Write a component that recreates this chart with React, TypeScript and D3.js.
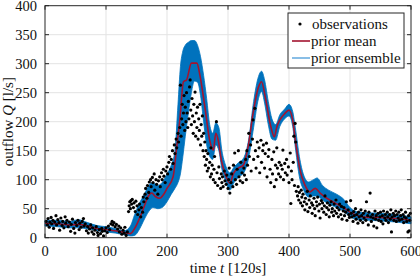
import * as d3 from "d3";
import React from "react";

const W = 420;
const H = 278;
const margin = { left: 45, right: 9, top: 5.7, bottom: 40.3 };

const xTicks = [0, 100, 200, 300, 400, 500, 600];
const yTicks = [0, 50, 100, 150, 200, 250, 300, 350, 400];

// prior mean [time, outflow]
const priorMean: [number, number][] = [
  [0, 25], [20, 24], [40, 22], [55, 23], [70, 20], [85, 16], [100, 14], [115, 12], [130, 9],
  [140, 7], [147, 16], [156, 36], [163, 55], [169, 71], [175, 77], [181, 71], [188, 68],
  [194, 74], [200, 85], [210, 105], [216, 157], [221, 203], [227, 269], [232, 272],
  [240, 301], [249, 301], [254, 280], [262, 226], [270, 168], [276, 151], [280, 180],
  [284, 168], [289, 134], [295, 111], [303, 94], [309, 111], [317, 120], [325, 125],
  [333, 157], [341, 214], [350, 260], [355, 269], [361, 243], [369, 197], [376, 174],
  [380, 191], [385, 203], [393, 214], [400, 220], [406, 203], [411, 163], [418, 117],
  [426, 91], [434, 79], [443, 85], [451, 77], [462, 68], [475, 60], [489, 52], [500, 44],
  [516, 37], [530, 35], [549, 35], [575, 33], [600, 30],
];

// prior ensemble envelope
const ensTime = [0, 20, 40, 55, 70, 85, 100, 115, 130, 140, 147, 155, 163, 170, 177, 185, 192, 200, 207, 213, 218, 222, 226, 230, 235, 240, 245, 250, 255, 260, 265, 270, 275, 280, 285, 290, 296, 303, 310, 318, 326, 334, 342, 350, 355, 360, 366, 372, 378, 385, 393, 400, 406, 411, 417, 424, 432, 440, 446, 455, 465, 478, 490, 500, 515, 530, 550, 575, 600];
const ensUpper = [30, 30, 28, 31, 26, 21, 19, 16, 12, 20, 40, 60, 75, 90, 95, 90, 95, 110, 125, 150, 230, 295, 322, 332, 337, 340, 340, 332, 312, 280, 240, 195, 180, 198, 190, 150, 125, 112, 122, 130, 138, 170, 235, 278, 287, 272, 235, 205, 195, 212, 222, 230, 218, 185, 140, 108, 96, 100, 103, 90, 82, 75, 66, 52, 44, 43, 42, 40, 36];
const ensLower = [20, 19, 17, 17, 15, 12, 10, 8, 5, 3, 4, 15, 32, 45, 52, 50, 52, 62, 75, 85, 95, 110, 140, 175, 215, 250, 270, 268, 245, 200, 160, 140, 135, 160, 150, 118, 98, 82, 95, 105, 112, 138, 190, 240, 252, 232, 195, 170, 168, 192, 205, 210, 192, 150, 105, 82, 70, 72, 72, 65, 58, 52, 45, 36, 31, 30, 29, 27, 24];

// observations [time, outflow]
const observations: [number, number][] = [
  [2, 28], [4, 22], [5, 33], [7, 18], [8, 27], [10, 35], [11, 24], [13, 30], [14, 16], [16, 27], [18, 38], [19, 22],
  [21, 31], [23, 26], [24, 13], [26, 34], [28, 21], [29, 28], [31, 17], [33, 36], [34, 25], [36, 30], [38, 19], [40, 27],
  [42, 11], [43, 23], [45, 32], [47, 16], [49, 8], [50, 26], [52, 21], [54, 30], [56, 14], [57, 25], [59, 18], [61, 28],
  [63, 33], [64, 20], [66, 24], [68, 12], [70, 19], [71, 8], [73, 15], [75, 22], [77, 10], [78, 17], [80, 6], [82, 13],
  [84, 19], [86, 9], [87, 4], [89, 14], [91, 7], [93, 16], [94, 11], [96, 3], [98, 12], [100, 17], [102, 9], [104, 20],
  [106, 14], [108, 24], [110, 28], [111, 22], [113, 26], [115, 19], [117, 23], [119, 15], [121, 20], [122, 10], [124, 17],
  [126, 6], [128, 13], [130, 8], [131, 18], [133, 4], [135, 10],
  [137, 45], [138, 55], [139, 62], [140, 50], [141, 64], [142, 58], [143, 66], [145, 52], [146, 60], [148, 45], [149, 63],
  [151, 55], [152, 40], [154, 48], [155, 58], [157, 36], [158, 52], [160, 44],
  [161, 70], [162, 62], [164, 75], [165, 85], [167, 68], [168, 90], [170, 78], [171, 96], [173, 100], [174, 88], [176, 104],
  [177, 95], [179, 110], [180, 82], [182, 100], [183, 92], [185, 75], [186, 98], [188, 105], [189, 88], [191, 112],
  [192, 100], [194, 118], [195, 106], [197, 95], [198, 115],
  [200, 122], [201, 110], [203, 130], [204, 140], [206, 118], [207, 135], [209, 150], [210, 128], [212, 160], [213, 145],
  [215, 170], [216, 155], [218, 180], [219, 165], [221, 190], [222, 263], [223, 175], [224, 205], [225, 230], [226, 195],
  [227, 215], [228, 245], [229, 185],
  [230, 225], [231, 200], [232, 250], [233, 215], [234, 190], [235, 235], [236, 205], [237, 260], [238, 272], [239, 220],
  [240, 195], [241, 240], [242, 210], [243, 180], [244, 230], [245, 200], [246, 251], [247, 175], [248, 215], [249, 190],
  [250, 225], [251, 170], [252, 205], [253, 185], [254, 230], [255, 160], [256, 195], [257, 175], [258, 210], [259, 150],
  [260, 180],
  [261, 140], [262, 165], [263, 125], [264, 150], [265, 135], [266, 115], [267, 145], [268, 120], [270, 130], [271, 105],
  [272, 155], [273, 110], [274, 125], [276, 100], [277, 118], [278, 140], [279, 95], [281, 200], [282, 112], [283, 90],
  [285, 122], [286, 102], [288, 85], [289, 110], [290, 95],
  [291, 105], [292, 88], [294, 115], [295, 98], [297, 92], [298, 108], [300, 85], [301, 100], [302, 120], [303, 77],
  [305, 95], [306, 110], [308, 88], [309, 125], [311, 146], [312, 100], [314, 92], [315, 118], [317, 150], [318, 105],
  [320, 98], [321, 130], [323, 112], [324, 95], [326, 120], [327, 108], [329, 135], [330, 100],
  [331, 150], [332, 125], [334, 180], [335, 140], [337, 160], [338, 115], [340, 170], [341, 203], [342, 135], [344, 223],
  [345, 150], [346, 120], [348, 165], [349, 140], [351, 155], [352, 112], [354, 168], [355, 130], [357, 150], [358, 160],
  [360, 120], [361, 145], [363, 163], [364, 105], [366, 140], [367, 152], [369, 118], [370, 95], [372, 135], [373, 110],
  [375, 148], [376, 88], [378, 125], [379, 100],
  [380, 155], [381, 120], [383, 110], [384, 130], [386, 105], [387, 125], [389, 118], [390, 151], [391, 100], [393, 128],
  [394, 112], [396, 135], [397, 108], [399, 122], [400, 95], [402, 146], [403, 59], [404, 115], [405, 100], [407, 130],
  [408, 175], [409, 90], [410, 197], [411, 165], [412, 80], [414, 72], [415, 88], [416, 65], [417, 78], [419, 60], [420, 82],
  [421, 70], [422, 55], [423, 75], [425, 62], [426, 48], [427, 68], [429, 58], [430, 80], [431, 45], [433, 65], [434, 52],
  [435, 72], [437, 60], [438, 42], [439, 56], [441, 68], [442, 50], [443, 38], [445, 62], [446, 55], [447, 70], [449, 46],
  [450, 58], [451, 34], [453, 64], [454, 50], [455, 60], [457, 44], [458, 55], [459, 72], [461, 40], [462, 52], [463, 60],
  [465, 48], [466, 36], [467, 56], [469, 62], [470, 44], [471, 50], [473, 38], [474, 58], [475, 46], [477, 65], [478, 42],
  [479, 52], [481, 36], [482, 48], [483, 58], [485, 40], [486, 54], [487, 32], [489, 46], [490, 52], [491, 38], [493, 44],
  [494, 62], [495, 30], [497, 48], [498, 40], [499, 35],
  [501, 64], [502, 42], [503, 36], [505, 28], [506, 45], [507, 38], [509, 50], [510, 32], [511, 40], [513, 25], [514, 44],
  [515, 36], [517, 30], [518, 48], [519, 38], [521, 26], [522, 42], [523, 34], [525, 46], [526, 30], [527, 62], [529, 38],
  [530, 22], [531, 44], [533, 77], [534, 36], [535, 28], [537, 40], [538, 34], [539, 20], [541, 46], [542, 32], [543, 38],
  [544, 17], [546, 42], [547, 30], [549, 36], [550, 44], [551, 28], [553, 38], [554, 24], [555, 46], [557, 34], [558, 40],
  [559, 30], [561, 44], [562, 36], [563, 26], [565, 40], [566, 32], [567, 48], [568, 10], [569, 36], [571, 42], [572, 30],
  [573, 38], [575, 46], [576, 28], [577, 40], [579, 34], [580, 44], [581, 30], [583, 38], [584, 48], [585, 32], [587, 40],
  [588, 26], [589, 36], [591, 44], [592, 34], [593, 28], [595, 10], [596, 38], [597, 12], [598, 30], [599, 42],
];

const font = "'Liberation Serif', 'Times New Roman', serif";
const axisColor = "#262626";
const meanColor = "#A2142F";
const ensColor = "#0072BD";

export default function App() {
  const x = d3.scaleLinear().domain([0, 600]).range([margin.left, W - margin.right]);
  const y = d3.scaleLinear().domain([0, 400]).range([H - margin.bottom, margin.top]);

  const band = d3
    .area<number>()
    .x((_, i) => x(ensTime[i]))
    .y0((_, i) => y(ensLower[i]))
    .y1((_, i) => y(ensUpper[i]))
    .curve(d3.curveMonotoneX);

  const meanLine = d3
    .line<[number, number]>()
    .x(d => x(d[0]))
    .y(d => y(d[1]))
    .curve(d3.curveMonotoneX);

  const x0 = x(0), x1 = x(600), y0 = y(0), y1 = y(400);
  const tick = 4;

  return (
    <svg width={W} height={H} style={{ position: "absolute", left: 0, top: 0, background: "white" }} fontFamily={font}>
      {/* grid */}
      <g stroke="#e3e3e3" strokeWidth={1}>
        {xTicks.slice(1, -1).map(t => (
          <line key={"gx" + t} x1={x(t)} x2={x(t)} y1={y0} y2={y1} />
        ))}
        {yTicks.slice(1, -1).map(t => (
          <line key={"gy" + t} x1={x0} x2={x1} y1={y(t)} y2={y(t)} />
        ))}
      </g>

      <path d={band(ensTime) ?? ""} fill={ensColor} stroke={ensColor} strokeWidth={0.8} />
      <path d={meanLine(priorMean) ?? ""} fill="none" stroke={meanColor} strokeWidth={1.6} />

      <g fill="black">
        {observations.map((d, i) => (
          <circle key={i} cx={x(d[0])} cy={y(d[1])} r={1.6} />
        ))}
      </g>

      {/* box and ticks */}
      <rect x={x0} y={y1} width={x1 - x0} height={y0 - y1} fill="none" stroke={axisColor} strokeWidth={1} />
      <g stroke={axisColor} strokeWidth={1}>
        {xTicks.map(t => (
          <g key={"tx" + t}>
            <line x1={x(t)} x2={x(t)} y1={y0} y2={y0 - tick} />
            <line x1={x(t)} x2={x(t)} y1={y1} y2={y1 + tick} />
          </g>
        ))}
        {yTicks.map(t => (
          <g key={"ty" + t}>
            <line x1={x0} x2={x0 + tick} y1={y(t)} y2={y(t)} />
            <line x1={x1} x2={x1 - tick} y1={y(t)} y2={y(t)} />
          </g>
        ))}
      </g>

      <g fontSize={14.5} fill="#111">
        {xTicks.map(t => (
          <text key={"lx" + t} x={x(t)} y={y0 + 18.5} textAnchor="middle">{t}</text>
        ))}
        {yTicks.map(t => (
          <text key={"ly" + t} x={x0 - 8} y={y(t)} dy="0.35em" textAnchor="end">{t}</text>
        ))}
      </g>
      <g fontSize={15} fill="#111">
        <text x={(x0 + x1) / 2} y={H - 5.5} textAnchor="middle">
          time <tspan fontStyle="italic">t</tspan> [120s]
        </text>
        <text transform={`translate(13, ${(y0 + y1) / 2}) rotate(-90)`} textAnchor="middle">
          outflow <tspan fontStyle="italic">Q</tspan> [l/s]
        </text>
      </g>

      {/* legend */}
      <g fontSize={15} fill="#111">
        <rect x={288} y={13} width={116} height={55} fill="white" stroke={axisColor} strokeWidth={1} />
        <circle cx={300} cy={24} r={1.6} fill="black" />
        <text x={312} y={28.5}>observations</text>
        <line x1={292} x2={310} y1={41} y2={41} stroke={meanColor} strokeWidth={1.6} />
        <text x={311} y={45.5}>prior mean</text>
        <line x1={292} x2={310} y1={58} y2={58} stroke="#3a93d6" strokeWidth={1.2} />
        <text x={311} y={62.5}>prior ensemble</text>
      </g>
    </svg>
  );
}
